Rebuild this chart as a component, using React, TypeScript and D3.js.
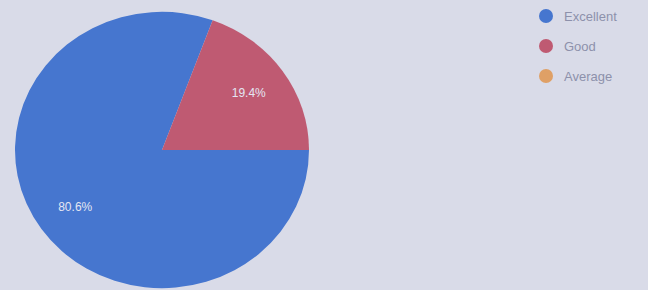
import React, { useEffect, useRef } from 'react';
import * as d3 from 'd3';

const categories = ['Excellent', 'Good', 'Average'];
const values = [80.6, 19.4, 0];
const colors = ['#4676cf', '#bf5a72', '#dfa066'];

const App: React.FC = () => {
  const svgRef = useRef<SVGSVGElement | null>(null);

  useEffect(() => {
    if (!svgRef.current) return;
    const width = 648;
    const height = 290;
    const cx = 162;
    const cy = 150;
    const r = 147;

    const svg = d3.select(svgRef.current);
    svg.selectAll('*').remove();
    svg.attr('width', width).attr('height', height);

    svg.append('rect')
      .attr('width', width)
      .attr('height', height)
      .attr('fill', '#d9dbe8');

    const data = categories.map((c, i) => ({ name: c, value: values[i], color: colors[i] }));
    const total = d3.sum(values);

    // slices start at 3 o'clock and run clockwise
    const pie = d3.pie<typeof data[0]>()
      .value(d => d.value)
      .sort(null)
      .startAngle(Math.PI / 2)
      .endAngle(Math.PI / 2 + Math.PI * 2);

    const arc = d3.arc<d3.PieArcDatum<typeof data[0]>>()
      .innerRadius(0)
      .outerRadius(r);

    const g = svg.append('g')
      .attr('transform', `translate(${cx},${cy}) scale(1,0.94)`);

    const arcs = pie(data).filter(d => d.value > 0);

    g.selectAll('path')
      .data(arcs)
      .enter()
      .append('path')
      .attr('d', arc)
      .attr('fill', d => d.data.color);

    const labelArc = d3.arc<d3.PieArcDatum<typeof data[0]>>()
      .innerRadius(r * 0.72)
      .outerRadius(r * 0.72);

    g.selectAll('text')
      .data(arcs)
      .enter()
      .append('text')
      .attr('transform', d => {
        const [x, y] = labelArc.centroid(d);
        return `translate(${x},${y}) scale(1,${1 / 0.94})`;
      })
      .attr('text-anchor', 'middle')
      .attr('dy', '0.35em')
      .attr('fill', '#e4e6f2')
      .style('font-family', 'Arial, "Liberation Sans", sans-serif')
      .style('font-size', '12px')
      .text(d => `${((d.value / total) * 100).toFixed(1)}%`);

    // Legend
    const legend = svg.append('g').attr('transform', 'translate(546,16)');
    const item = legend.selectAll('g')
      .data(data)
      .enter()
      .append('g')
      .attr('transform', (_d, i) => `translate(0,${i * 30})`);

    item.append('circle')
      .attr('r', 7)
      .attr('fill', d => d.color);

    item.append('text')
      .attr('x', 18)
      .attr('dy', '0.35em')
      .attr('fill', '#8d91ab')
      .style('font-family', 'Arial, "Liberation Sans", sans-serif')
      .style('font-size', '13px')
      .text(d => d.name);
  }, []);

  return (
    <div style={{ position: 'absolute', left: 0, top: 0 }}>
      <svg ref={svgRef} style={{ display: 'block' }} />
    </div>
  );
};

export default App;
